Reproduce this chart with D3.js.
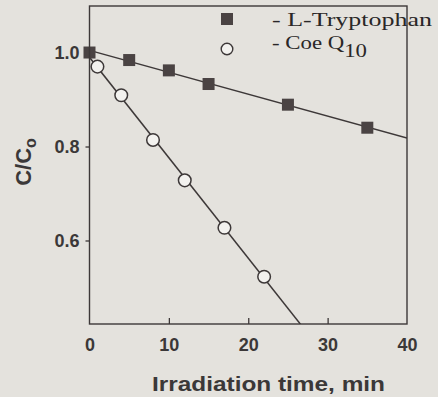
<!DOCTYPE html>
<html>
<head>
<meta charset="utf-8">
<script src="https://cdn.jsdelivr.net/npm/d3@7"></script>
<style>
  body { margin: 0; background: #e4e2dd; }
  svg { display: block; }
  .tick text { font-family: "Liberation Sans", Arial, sans-serif; font-weight: bold; font-size: 18px; fill: #3b3838; }
  .axis-label { font-family: "Liberation Sans", Arial, sans-serif; font-weight: bold; fill: #3b3838; }
  .legend-text { font-family: "Liberation Serif", "Times New Roman", serif; font-size: 19.5px; fill: #2a2727; }
</style>
</head>
<body>
<svg id="chart"></svg>
<script>
// values
const trpTime = [0, 5, 10, 15, 25, 35];
const trpValue = [1.0, 0.984, 0.962, 0.933, 0.889, 0.840];
const coqTime = [1, 4, 8, 12, 17, 22];
const coqValue = [0.970, 0.909, 0.814, 0.728, 0.627, 0.523];
const xTickValues = [0, 10, 20, 30, 40];
const yTickValues = [0.6, 0.8, 1.0];

class LineChart {

  constructor(_config) {
    this.config = {
      parentElement: _config.parentElement,
      containerWidth: 438,
      containerHeight: 397,
      margin: {top: 6, right: 31, bottom: 73, left: 89.5},
      ink: '#3d3838'
    }
    this.initVis();
  }

  initVis() {
    let vis = this;

    vis.width = vis.config.containerWidth - vis.config.margin.left - vis.config.margin.right;
    vis.height = vis.config.containerHeight - vis.config.margin.top - vis.config.margin.bottom;

    vis.xScale = d3.scaleLinear()
        .domain([0, 40])
        .range([0, vis.width]);

    // 1.0 sits 46.5px below the frame top, 0.2 units span 94px
    vis.yScale = d3.scaleLinear()
        .domain([0.4223, 1.099])
        .range([vis.height, 0]);

    vis.svg = d3.select(vis.config.parentElement)
        .attr('width', vis.config.containerWidth)
        .attr('height', vis.config.containerHeight);

    vis.chart = vis.svg.append('g')
        .attr('transform', `translate(${vis.config.margin.left},${vis.config.margin.top})`);

    vis.svg.append('defs').append('clipPath')
        .attr('id', 'plot-clip')
      .append('rect')
        .attr('width', vis.width)
        .attr('height', vis.height);

    vis.xAxis = d3.axisBottom(vis.xScale)
        .tickValues(xTickValues)
        .tickSize(-6)
        .tickPadding(14)
        .tickFormat(d3.format('d'));

    vis.yAxis = d3.axisLeft(vis.yScale)
        .tickValues(yTickValues)
        .tickSize(4)
        .tickPadding(6)
        .tickFormat(d3.format('.1f'));

    vis.xAxisG = vis.chart.append('g')
        .attr('class', 'axis x-axis')
        .attr('transform', `translate(0,${vis.height})`);

    vis.yAxisG = vis.chart.append('g')
        .attr('class', 'axis y-axis');

    // axis titles
    vis.svg.append('text')
        .attr('class', 'axis-label')
        .attr('x', 268.5)
        .attr('y', 391)
        .attr('text-anchor', 'middle')
        .attr('font-size', 21)
        .attr('textLength', 233)
        .attr('lengthAdjust', 'spacingAndGlyphs')
        .text('Irradiation time, min');

    let yLabel = vis.svg.append('text')
        .attr('class', 'axis-label')
        .attr('transform', 'translate(31,162) rotate(-90)')
        .attr('text-anchor', 'middle')
        .attr('font-size', 22);
    yLabel.append('tspan').text('C/C');
    yLabel.append('tspan').attr('dy', 5).attr('font-size', 16).text('o');
  }

  updateVis() {
    let vis = this;

    vis.trp = trpTime.map((t, i) => ({x: t, y: trpValue[i]}));
    vis.coq = coqTime.map((t, i) => ({x: t, y: coqValue[i]}));

    // straight fitted lines, as in the original figure
    vis.trpFit = vis.fit(vis.trp);
    vis.coqFit = vis.fit(vis.coq);

    vis.renderVis();
    vis.renderLegend();
  }

  fit(points) {
    let mx = d3.mean(points, d => d.x);
    let my = d3.mean(points, d => d.y);
    let sxy = d3.sum(points, d => (d.x - mx) * (d.y - my));
    let sxx = d3.sum(points, d => (d.x - mx) * (d.x - mx));
    let slope = sxy / sxx;
    let b = my - slope * mx;
    return [0, 40].map(x => ({x: x, y: b + slope * x}));
  }

  renderVis() {
    let vis = this;
    let ink = vis.config.ink;

    let line = d3.line()
        .x(d => vis.xScale(d.x))
        .y(d => vis.yScale(d.y));

    vis.chart.append('g')
        .attr('clip-path', 'url(#plot-clip)')
      .selectAll('path')
        .data([vis.trpFit, vis.coqFit])
      .join('path')
        .attr('d', line)
        .attr('fill', 'none')
        .attr('stroke', ink)
        .attr('stroke-width', 1.5);

    vis.chart.selectAll('.coq')
        .data(vis.coq)
      .join('circle')
        .attr('class', 'coq')
        .attr('cx', d => vis.xScale(d.x))
        .attr('cy', d => vis.yScale(d.y))
        .attr('r', 6.3)
        .attr('fill', '#f3f2ef')
        .attr('stroke', ink)
        .attr('stroke-width', 1.5);

    vis.chart.selectAll('.trp')
        .data(vis.trp)
      .join('rect')
        .attr('class', 'trp')
        .attr('x', d => vis.xScale(d.x) - 6)
        .attr('y', d => vis.yScale(d.y) - 6)
        .attr('width', 12)
        .attr('height', 12)
        .attr('fill', '#4a4343');

    vis.xAxisG.call(vis.xAxis);
    vis.yAxisG.call(vis.yAxis);

    vis.chart.selectAll('.axis .domain').remove();
    vis.chart.selectAll('.axis .tick line').attr('stroke', ink).attr('stroke-width', 1.3);
    // ticks at 0 and 40 fall on the frame
    vis.xAxisG.selectAll('.tick line').filter(d => d === 0 || d === 40).remove();
  }

  renderLegend() {
    let vis = this;
    let ink = vis.config.ink;

    vis.svg.append('rect')
        .attr('x', 221)
        .attr('y', 13)
        .attr('width', 12)
        .attr('height', 12)
        .attr('fill', '#4a4343');

    vis.svg.append('circle')
        .attr('cx', 227)
        .attr('cy', 49)
        .attr('r', 5.8)
        .attr('fill', '#f3f2ef')
        .attr('stroke', ink)
        .attr('stroke-width', 1.4);

    vis.svg.append('text')
        .attr('class', 'legend-text')
        .attr('x', 272)
        .attr('y', 26)
        .attr('textLength', 160)
        .attr('lengthAdjust', 'spacingAndGlyphs')
        .text('- L-Tryptophan');

    let coqLabel = vis.svg.append('text')
        .attr('class', 'legend-text')
        .attr('x', 272)
        .attr('y', 49)
        .attr('textLength', 95)
        .attr('lengthAdjust', 'spacingAndGlyphs');
    coqLabel.append('tspan').text('- Coe Q');
    coqLabel.append('tspan').attr('dy', 8).text('10');

    // frame around the plot, drawn last so it crosses the legend text
    vis.chart.append('rect')
        .attr('width', vis.width)
        .attr('height', vis.height)
        .attr('fill', 'none')
        .attr('stroke', ink)
        .attr('stroke-width', 1.4);
  }
}

let chart = new LineChart({parentElement: '#chart'});
chart.updateVis();
</script>
</body>
</html>
